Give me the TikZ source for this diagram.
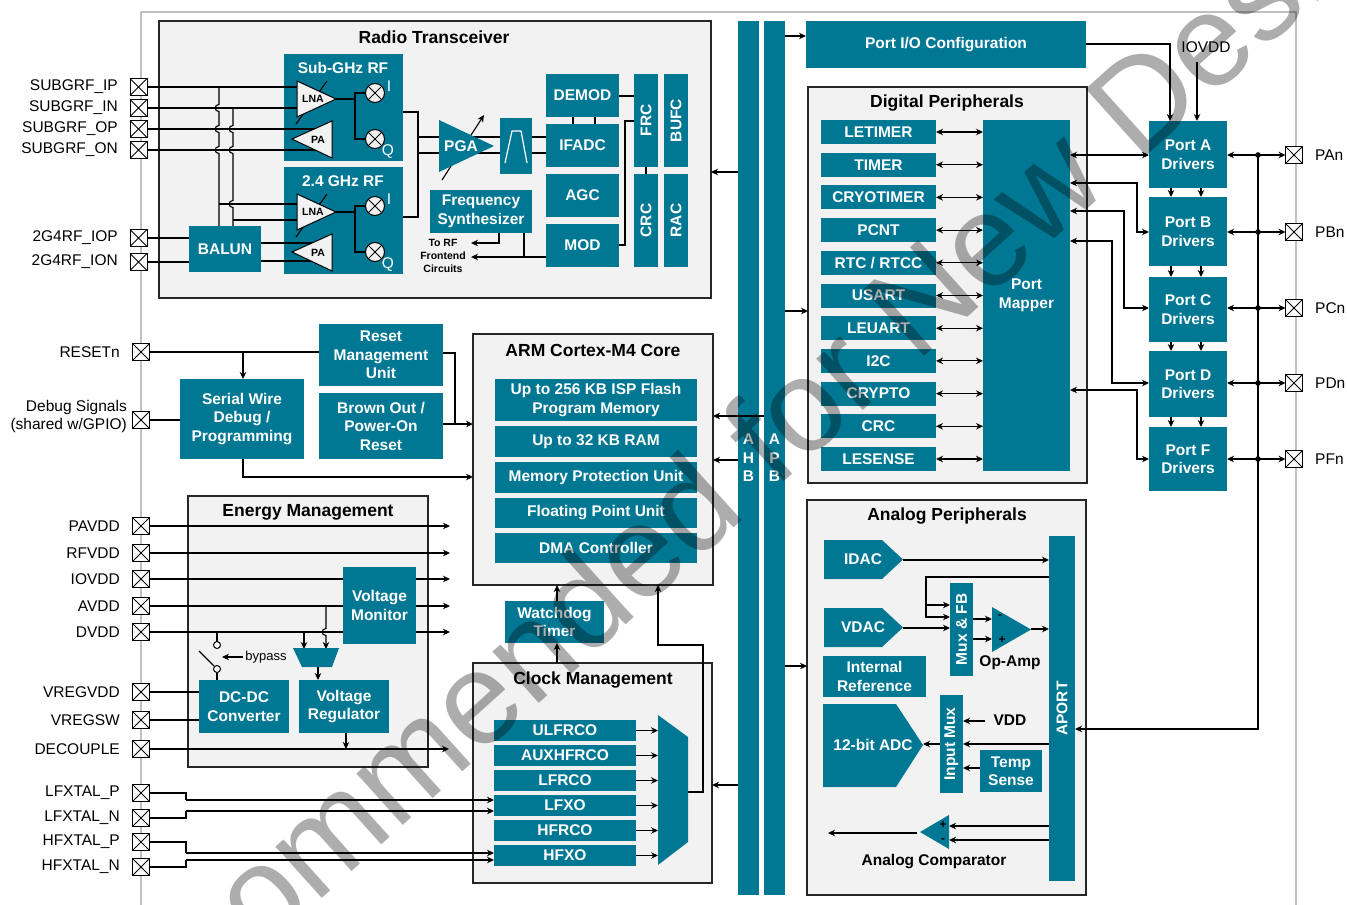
\documentclass[tikz,border=0pt]{standalone}
\usepackage{fontspec}
\setmainfont{Liberation Sans}
\usetikzlibrary{arrows.meta}
\definecolor{tealc}{RGB}{0,120,148}
\definecolor{bgg}{RGB}{242,242,242}
\definecolor{frameg}{RGB}{192,192,192}
\tikzset{
  tbox/.style={fill=tealc, text=white, font=\bfseries\fontsize{15.5}{18.5}\selectfont, align=center, inner sep=0pt, draw=none},
  wtxt/.style={text=white, font=\bfseries\fontsize{15.5}{18.5}\selectfont, align=center, inner sep=0pt},
  gbox/.style={fill=bgg, draw=black!85, line width=1.2pt, inner sep=0pt},
  ttl/.style={font=\bfseries\fontsize{17.5}{20}\selectfont, inner sep=0pt},
  lbl/.style={font=\fontsize{15.5}{18.5}\selectfont, inner sep=0pt},
  blbl/.style={font=\bfseries\fontsize{15.5}{18.5}\selectfont, inner sep=0pt},
  smalltxt/.style={font=\bfseries\fontsize{10.5}{13}\selectfont, inner sep=0pt, align=center},
  xpin/.style={draw=black, fill=white, line width=1pt, minimum size=17pt, inner sep=0pt,
     path picture={\draw[line width=1pt] (path picture bounding box.north west) -- (path picture bounding box.south east) (path picture bounding box.north east) -- (path picture bounding box.south west);}},
  mixer/.style={circle, draw=black, fill=bgg, line width=1pt, minimum size=19pt, inner sep=0pt,
     path picture={\draw[line width=1pt] (path picture bounding box.north west) -- (path picture bounding box.south east) (path picture bounding box.north east) -- (path picture bounding box.south west);}},
  wire/.style={line width=1.1pt, draw=black},
  arr/.style={wire, -{Stealth[length=7pt,width=6.5pt]}},
  darr/.style={wire, {Stealth[length=7pt,width=6.5pt]}-{Stealth[length=7pt,width=6.5pt]}},
  tri/.style={fill=bgg, draw=black, line width=1pt},
  tealfill/.style={fill=tealc, draw=none},
}
\newcommand\tbx[6]{\node[tbox, minimum width={(#4)-(#2)}, minimum height={(#5)-(#3)}] (#1) at ({((#2)+(#4))/2},{((#3)+(#5))/2}) {#6};}
\newcommand\gbx[5]{\node[gbox, minimum width={(#4)-(#2)}, minimum height={(#5)-(#3)}] (#1) at ({((#2)+(#4))/2},{((#3)+(#5))/2}) {};}
\newcommand\vhop[2]{-- ({#1},{#2-3.5}) .. controls ({#1-5},{#2-3.5}) and ({#1-5},{#2+3.5}) .. ({#1},{#2+3.5})}
\begin{document}
\begin{tikzpicture}[x=1pt,y=-1pt]
\useasboundingbox (0,0) rectangle (1347,905);
\fill[white] (0,0) rectangle (1347,905);
\draw[frameg, line width=1.3pt] (141,905) -- (141,12) -- (1296,12) -- (1296,905);

% ---------- containers
\gbx{radio}{159}{21}{711}{298}
\gbx{arm}{473}{334}{713}{585}
\gbx{em}{188}{496}{428}{767}
\gbx{clk}{473}{663}{712}{883}
\gbx{dp}{808}{87}{1087}{483}
\gbx{ap}{807}{500}{1086}{895}
\node[ttl] (radiot) at (434,37) {Radio Transceiver};
\node[ttl] (armt) at (593,350) {ARM Cortex-M4 Core};
\node[ttl] (emt) at (308,512) {Energy Management};
\node[ttl] (clkt) at (593,680) {Clock Management};
\node[ttl] (dpt) at (947,103) {Digital Peripherals};
\node[ttl] (apt) at (947,516) {Analog Peripherals};

% ---------- buses and RF boxes
\tbx{ahb}{738}{21}{759}{895}{}
\tbx{apb}{764}{21}{785}{895}{}
\node[wtxt] (ahbt) at (748.5,458) {A\\H\\B};
\node[wtxt] (apbt) at (774.5,458) {A\\P\\B};
\tbx{subg}{284}{54}{403}{161}{}
\tbx{rf24}{284}{167}{403}{274}{}
\node[wtxt] (subgt) at (343,68) {Sub-GHz RF};
\node[wtxt] (rf24t) at (343,181) {2.4 GHz RF};

% ---------- radio wires
\draw[wire] (138.5,87) -- (300,87);
\draw[wire] (138.5,108) -- (300,108);
\draw[wire] (138.5,129) -- (325,129);
\draw[wire] (138.5,150) -- (325,150);
\draw[wire] (219,87) \vhop{219}{108} \vhop{219}{129} \vhop{219}{150} -- (219,226);
\draw[wire] (233,108) \vhop{233}{129} \vhop{233}{150} \vhop{233}{204} -- (233,226);
\draw[wire] (219,204) -- (300,204);
\draw[wire] (233,220) -- (300,220);
\draw[wire] (138.5,238) -- (190,238);
\draw[wire] (138.5,262) -- (190,262);
\draw[wire] (261,243) -- (325,243);
\draw[wire] (261,261) -- (325,261);
% LNA gain lines
\draw[wire] (296,124) -- (327,81);
\draw[wire] (296,237) -- (327,194);
% mixer feeds
\draw[wire] (336,99) -- (355,99);
\draw[wire] (366,93) -- (355,93) -- (355,139) -- (366,139);
\draw[wire] (336,212) -- (355,212);
\draw[wire] (366,206) -- (355,206) -- (355,252) -- (366,252);
% to PGA
\draw[wire] (403,112) -- (418,112) -- (418,217) -- (403,217);
\draw[wire] (418,137) -- (501,137);
\draw[wire] (418,153) -- (501,153);
\draw[wire] (531,137) -- (547,137);
\draw[wire] (531,153) -- (547,153);
\draw[arr] (442,180) -- (484,115);
% digital radio
\draw[wire] (573,117) -- (573,124);
\draw[wire] (595,117) -- (595,124);
\draw[wire] (646,167) -- (646,174);
\draw[wire] (619,96) -- (634,96);
\draw[wire] (619,245) -- (625,245) -- (625,121) -- (634,121);
\draw[arr] (499,233) -- (499,243) -- (471,243);
\draw[arr] (546,257) -- (471,257);
\draw[wire] (524,233) -- (524,257);
\draw[arr] (738,172) -- (711,172);

% ---------- reset / debug wires
\draw[wire] (141,352) -- (319,352);
\draw[arr] (243,352) -- (243,379);
\draw[wire] (141,420) -- (180,420);
\draw[wire] (443,353) -- (455,353) -- (455,424);
\draw[arr] (443,424) -- (473,424);
\draw[arr] (243,459) -- (243,477) -- (473,477);

% ---------- ARM arrows
\draw[arr] (764,416) -- (713,416);
\draw[arr] (738,460) -- (713,460);

% ---------- energy wires
\draw[arr] (141,526) -- (450,526);
\draw[arr] (141,553) -- (450,553);
\draw[arr] (141,579) -- (450,579);
\draw[arr] (141,606) -- (450,606);
\draw[arr] (141,632) -- (450,632);
\draw[arr] (141,749) -- (449,749);
\draw[arr] (326,606) \vhop{326}{632} -- (326,649);
\draw[arr] (304,632) -- (304,649);
\draw[wire] (217,632) -- (217,641.5);
\draw[wire] (217,672.5) -- (217,680);
\draw[wire] (199,651) -- (214,666);
\draw[arr] (243,657) -- (222,657);
\draw[arr] (318,667) -- (318,680);
\draw[arr] (346,733) -- (346,749);
\draw[wire] (141,692) -- (199,692);
\draw[wire] (141,720) -- (199,720);

% ---------- watchdog / clock wires
\draw[arr] (557,601) -- (557,585);
\draw[arr] (557,663) -- (557,643);
\draw[arr] (688,792) -- (703,792) -- (703,645) -- (658,645) -- (658,585);
\draw[arr] (738,785) -- (712,785);
\draw[wire] (141,793) -- (186,793) -- (186,800);
\draw[arr] (186,800) -- (494,800);
\draw[wire] (141,818) -- (186,818) -- (186,811);
\draw[arr] (186,811) -- (494,811);
\draw[wire] (141,842) -- (186,842) -- (186,853);
\draw[arr] (186,853) -- (494,853);
\draw[wire] (141,867) -- (186,867) -- (186,860);
\draw[arr] (186,860) -- (494,860);
\foreach \i in {0,...,5} {\draw[arr] (636,{730.5+25*\i}) -- (658,{730.5+25*\i});}

% ---------- digital periph / port wires
\draw[arr] (785,36) -- (806,36);
\draw[arr] (1086,44) -- (1170,44) -- (1170,121);
\draw[arr] (1197,62) -- (1197,121);
\draw[arr] (785,311) -- (808,311);
\draw[darr] (1070,155) -- (1149,155);
\draw[darr] (1070,183) -- (1137,183) -- (1137,232) -- (1149,232);
\draw[darr] (1070,211) -- (1124,211) -- (1124,308) -- (1149,308);
\draw[darr] (1070,241) -- (1112,241) -- (1112,383) -- (1149,383);
\draw[darr] (1070,390) -- (1137,390) -- (1137,459) -- (1149,459);
\foreach \ya/\yb in {188/197,266/277,342/351,417/427} {
  \draw[arr] (1171,\ya) -- (1171,\yb);
  \draw[arr] (1201,\ya) -- (1201,\yb);
}
\foreach \y in {155,232,308,383,459} {
  \draw[darr] (1227,\y) -- (1285.5,\y);
  \fill (1258,\y) circle (2.8);
}
\draw[arr] (1258,155) -- (1258,729) -- (1075,729);

% ---------- analog wires
\draw[arr] (785,666) -- (807,666);
\draw[arr] (903,560) -- (1049,560);
\draw[arr] (1049,577) -- (926,577) -- (926,617) -- (950,617);
\draw[arr] (926,605) -- (950,605);
\draw[arr] (903,628) -- (950,628);
\draw[arr] (973,619) -- (992,619);
\draw[arr] (973,639) -- (992,639);
\draw[arr] (1031,629) -- (1049,629);
\draw[arr] (940,744) -- (923,744);
\draw[arr] (985,721) -- (963,721);
\draw[arr] (1049,744) -- (963,744);
\draw[arr] (980,768) -- (963,768);
\draw[arr] (1049,826) -- (949,826);
\draw[arr] (1049,840) -- (949,840);
\draw[arr] (917,833) -- (828,833);

% ---------- radio blocks
\draw[tri] (297,81) -- (336,99) -- (297,117) -- cycle;
\draw[tri] (297,194) -- (336,212) -- (297,230) -- cycle;
\draw[tri] (292,139) -- (332,121) -- (332,158) -- cycle;
\draw[tri] (292,252) -- (332,234) -- (332,271) -- cycle;
\node[smalltxt] (lna1) at (313,99) {LNA};
\node[smalltxt] (lna2) at (313,212) {LNA};
\node[smalltxt] (pa1) at (318,140) {PA};
\node[smalltxt] (pa2) at (318,253) {PA};
\node[mixer] (mx1) at (375,93) {};
\node[mixer] (mx2) at (375,139) {};
\node[mixer] (mx3) at (375,206) {};
\node[mixer] (mx4) at (375,252) {};
\node[lbl, text=white] (i1) at (389,86) {I};
\node[lbl, text=white] (q1) at (388,152) {Q};
\node[lbl, text=white] (i2) at (389,199) {I};
\node[lbl, text=white] (q2) at (388,265) {Q};
\tbx{balun}{189}{226}{261}{272}{BALUN}
\fill[tealc] (439,120) -- (494,146) -- (439,172) -- cycle;
\node[wtxt] (pga) at (461,146) {PGA};
\tbx{filt}{500}{118}{532}{174}{}
\draw[white, line width=1.2pt] (505,163) -- (512,131) -- (521,131) -- (527,163);
\tbx{demod}{546}{74}{619}{117}{DEMOD}
\tbx{ifadc}{546}{124}{619}{167}{IFADC}
\tbx{agc}{546}{174}{619}{217}{AGC}
\tbx{mod}{546}{224}{619}{267}{MOD}
\tbx{frc}{634}{74}{658}{167}{}
\tbx{crc1}{634}{174}{658}{267}{}
\tbx{bufc}{664}{74}{688}{167}{}
\tbx{rac}{664}{174}{688}{267}{}
\node[wtxt, rotate=90] (frct) at (646,120.5) {FRC};
\node[wtxt, rotate=90] (crct) at (646,220.5) {CRC};
\node[wtxt, rotate=90] (bufct) at (676,120.5) {BUFC};
\node[wtxt, rotate=90] (ract) at (676,220.5) {RAC};
\tbx{fsyn}{430}{190}{532}{233}{Frequency\\Synthesizer}
\node[smalltxt] (torf) at (443,256) {To RF\\Frontend\\Circuits};

% ---------- reset / debug blocks
\tbx{rmu}{319}{324}{443}{386}{Reset\\Management\\Unit}
\tbx{bor}{319}{393}{443}{459}{Brown Out /\\Power-On\\Reset}
\tbx{swd}{180}{379}{304}{459}{Serial Wire\\Debug /\\Programming}

% ---------- ARM blocks
\tbx{flash}{495}{379}{697}{421}{Up to 256 KB ISP Flash\\Program Memory}
\tbx{ram}{495}{426}{697}{457}{Up to 32 KB RAM}
\tbx{mpu}{495}{462}{697}{493}{Memory Protection Unit}
\tbx{fpu}{495}{498}{697}{528}{Floating Point Unit}
\tbx{dma}{495}{533}{697}{563}{DMA Controller}

% ---------- energy blocks
\tbx{vm}{343}{567}{416}{644}{Voltage\\Monitor}
\fill[tealc] (293,648) -- (339,648) -- (332,667) -- (302,667) -- cycle;
\draw[line width=1pt, fill=white] (217,645) circle (3.5);
\draw[line width=1pt, fill=white] (217,669) circle (3.5);
\node[font=\fontsize{13}{15}\selectfont, inner sep=0pt] (bypass) at (266,657) {bypass};
\tbx{dcdc}{199}{680}{289}{733}{DC-DC\\Converter}
\tbx{vreg}{299}{680}{389}{733}{Voltage\\Regulator}

% ---------- watchdog / clock blocks
\tbx{wdt}{505}{601}{604}{643}{Watchdog\\Timer}
\foreach \t [count=\i] in {ULFRCO,AUXHFRCO,LFRCO,LFXO,HFRCO,HFXO} {
  \node[tbox, minimum width=142pt, minimum height=21pt] (osc\i) at (565,{730.5+25*(\i-1)}) {\t};
}
\fill[tealc] (658,715) -- (688,737) -- (688,842) -- (658,865) -- cycle;

% ---------- digital peripherals
\tbx{pio}{806}{21}{1086}{68}{Port I/O Configuration}
\node[lbl] (iovddt) at (1206,47) {IOVDD};
\foreach \t [count=\i] in {LETIMER,TIMER,CRYOTIMER,PCNT,{RTC / RTCC},USART,LEUART,I2C,CRYPTO,CRC,LESENSE} {
  \node[tbox, minimum width=115pt, minimum height=24pt] (per\i) at (878.5,{132+32.7*(\i-1)}) {\t};
  \draw[darr] (936,{132+32.7*(\i-1)}) -- (983,{132+32.7*(\i-1)});
}
\tbx{pm}{983}{120}{1070}{471}{Port\\Mapper}
\tbx{porta}{1149}{121}{1227}{188}{Port A\\Drivers}
\tbx{portb}{1149}{197}{1227}{266}{Port B\\Drivers}
\tbx{portc}{1149}{277}{1227}{342}{Port C\\Drivers}
\tbx{portd}{1149}{351}{1227}{417}{Port D\\Drivers}
\tbx{portf}{1149}{427}{1227}{491}{Port F\\Drivers}

% ---------- analog blocks
\fill[tealc] (824,540) -- (882,540) -- (903,559.5) -- (882,579) -- (824,579) -- cycle;
\node[wtxt] (idac) at (863,559.5) {IDAC};
\fill[tealc] (824,608) -- (882,608) -- (903,627.5) -- (882,647) -- (824,647) -- cycle;
\node[wtxt] (vdac) at (863,627.5) {VDAC};
\fill[tealc] (823,704) -- (896,704) -- (923,745) -- (896,787) -- (823,787) -- cycle;
\node[wtxt] (adc) at (873,745) {12-bit ADC};
\tbx{aport}{1049}{536}{1075}{881}{}
\node[wtxt, rotate=90] (aportt) at (1062,708.5) {APORT};
\tbx{mfb}{950}{583}{973}{676}{}
\node[wtxt, rotate=90] (mfbt) at (961.5,629.5) {Mux \& FB};
\fill[tealc] (992,607) -- (1031,629.5) -- (992,652) -- cycle;
\node[font=\bfseries\fontsize{12}{14}\selectfont, inner sep=0pt] (om) at (1000,617) {-};
\node[font=\bfseries\fontsize{12}{14}\selectfont, inner sep=0pt] (op) at (1002,640) {+};
\node[blbl] (opamp) at (1010,663) {Op-Amp};
\tbx{iref}{823}{656}{926}{697}{Internal\\Reference}
\tbx{imux}{940}{695}{963}{793}{}
\node[wtxt, rotate=90] (imuxt) at (951.5,744) {Input Mux};
\node[blbl] (vddt) at (1010,720) {VDD};
\tbx{temp}{980}{750}{1042}{792}{Temp\\Sense}
\fill[tealc] (949,815) -- (920,832) -- (949,849) -- cycle;
\node[font=\bfseries\fontsize{12}{14}\selectfont, inner sep=0pt] (cp) at (943,825) {+};
\node[font=\bfseries\fontsize{12}{14}\selectfont, inner sep=0pt] (cm) at (943,841) {-};
\node[blbl] (acmp) at (934,862) {Analog Comparator};

% ---------- pins left
\foreach \n/\y/\t in {ip/87/SUBGRF\_IP, in/108/SUBGRF\_IN, op/129/SUBGRF\_OP, on/150/SUBGRF\_ON, iop/238/2G4RF\_IOP, ion/262/2G4RF\_ION} {
  \node[xpin] (p\n) at (138.5,\y) {};
  \node[lbl, anchor=east] (l\n) at (118,\y) {\t};
}
\foreach \n/\y/\t in {rst/352/RESETn, pavdd/526/PAVDD, rfvdd/553/RFVDD, iovdd/579/IOVDD, avdd/606/AVDD, dvdd/632/DVDD, vregvdd/692/VREGVDD, vregsw/720/VREGSW, dec/749/DECOUPLE, lfp/793/LFXTAL\_P, lfn/818/LFXTAL\_N, hfp/842/HFXTAL\_P, hfn/867/HFXTAL\_N} {
  \node[xpin] (p\n) at (141,\y) {};
  \node[lbl, anchor=east] (l\n) at (120,\y) {\t};
}
\node[xpin] (pdbg) at (141,420) {};
\node[lbl, anchor=east, align=right] (ldbg) at (127,416.5) {Debug Signals\\(shared w/GPIO)};
% pins right
\foreach \n/\y/\t in {pa/155/PAn, pb/232/PBn, pc/308/PCn, pd/383/PDn, pf/459/PFn} {
  \node[xpin] (q\n) at (1294,\y) {};
  \node[lbl, anchor=west] (r\n) at (1315,\y) {\t};
}

% ---------- watermark
\node[rotate=42, anchor=base, text=black, opacity=0.32, font=\fontsize{131}{131}\selectfont, inner sep=0pt] (wm) at (700,558) {Not Recommended for New Designs};
\end{tikzpicture}
\end{document}
